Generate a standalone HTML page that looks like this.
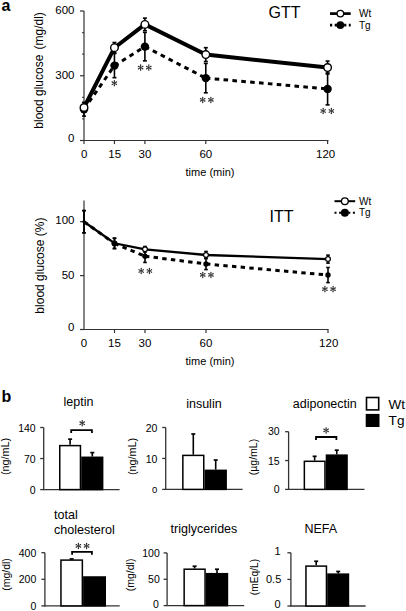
<!DOCTYPE html>
<html><head><meta charset="utf-8"><style>
html,body{margin:0;padding:0;background:#fff;}
svg{display:block;font-family:"Liberation Sans", sans-serif;}
</style></head><body>
<svg width="406" height="611" viewBox="0 0 406 611">
<rect width="406" height="611" fill="#fff"/>
<text x="1.5" y="10.8" font-size="16" text-anchor="start" font-weight="bold" fill="#000">a</text>
<line x1="84.00" y1="11.00" x2="84.00" y2="141.00" stroke="#333" stroke-width="1.2"/>
<line x1="83.50" y1="140.50" x2="328.50" y2="140.50" stroke="#333" stroke-width="1.2"/>
<line x1="80.00" y1="140.50" x2="84.00" y2="140.50" stroke="#333" stroke-width="1.2"/>
<text x="74.5" y="142.1" font-size="11.5" text-anchor="end" font-weight="normal" fill="#000">0</text>
<line x1="80.00" y1="75.75" x2="84.00" y2="75.75" stroke="#333" stroke-width="1.2"/>
<text x="74.5" y="78.75" font-size="11.5" text-anchor="end" font-weight="normal" fill="#000">300</text>
<line x1="80.00" y1="11.00" x2="84.00" y2="11.00" stroke="#333" stroke-width="1.2"/>
<text x="74.5" y="13.8" font-size="11.5" text-anchor="end" font-weight="normal" fill="#000">600</text>
<line x1="82.20" y1="118.92" x2="84.00" y2="118.92" stroke="#333" stroke-width="1.2"/>
<line x1="82.20" y1="97.33" x2="84.00" y2="97.33" stroke="#333" stroke-width="1.2"/>
<line x1="82.20" y1="54.17" x2="84.00" y2="54.17" stroke="#333" stroke-width="1.2"/>
<line x1="82.20" y1="32.58" x2="84.00" y2="32.58" stroke="#333" stroke-width="1.2"/>
<line x1="84.00" y1="140.50" x2="84.00" y2="144.00" stroke="#333" stroke-width="1.2"/>
<text x="84.2" y="157.8" font-size="11.5" text-anchor="middle" font-weight="normal" fill="#000">0</text>
<line x1="114.45" y1="140.50" x2="114.45" y2="144.00" stroke="#333" stroke-width="1.2"/>
<text x="114.64999999999999" y="157.8" font-size="11.5" text-anchor="middle" font-weight="normal" fill="#000">15</text>
<line x1="144.90" y1="140.50" x2="144.90" y2="144.00" stroke="#333" stroke-width="1.2"/>
<text x="144.89999999999998" y="157.8" font-size="11.5" text-anchor="middle" font-weight="normal" fill="#000">30</text>
<line x1="205.80" y1="140.50" x2="205.80" y2="144.00" stroke="#333" stroke-width="1.2"/>
<text x="205.79999999999998" y="157.8" font-size="11.5" text-anchor="middle" font-weight="normal" fill="#000">60</text>
<line x1="327.60" y1="140.50" x2="327.60" y2="144.00" stroke="#333" stroke-width="1.2"/>
<text x="325.59999999999997" y="157.8" font-size="11.5" text-anchor="middle" font-weight="normal" fill="#000">120</text>
<text x="210" y="176.2" font-size="11" text-anchor="middle" font-weight="normal" fill="#000">time (min)</text>
<text x="43.5" y="70.4" font-size="12" text-anchor="middle" fill="#000" transform="rotate(-90 43.5 70.4)">blood glucose <tspan dx="1.8">(mg/dl)</tspan></text>
<text x="268.5" y="17.8" font-size="16" text-anchor="start" font-weight="normal" fill="#000">GTT</text>
<line x1="84.00" y1="109.20" x2="114.45" y2="65.61" stroke="#000" stroke-width="3" stroke-dasharray="4.6 4.3" stroke-dashoffset="0"/>
<line x1="114.45" y1="65.61" x2="144.90" y2="46.61" stroke="#000" stroke-width="3" stroke-dasharray="4.6 4.3" stroke-dashoffset="0"/>
<line x1="144.90" y1="46.61" x2="205.80" y2="78.12" stroke="#000" stroke-width="3" stroke-dasharray="4.6 4.3" stroke-dashoffset="0"/>
<line x1="205.80" y1="78.12" x2="327.60" y2="88.92" stroke="#000" stroke-width="3" stroke-dasharray="4.6 4.3" stroke-dashoffset="0"/>
<line x1="84.00" y1="102.30" x2="84.00" y2="116.11" stroke="#000" stroke-width="1.6"/>
<line x1="82.00" y1="102.30" x2="86.00" y2="102.30" stroke="#000" stroke-width="1.6"/>
<line x1="82.00" y1="116.11" x2="86.00" y2="116.11" stroke="#000" stroke-width="1.6"/>
<line x1="114.45" y1="53.52" x2="114.45" y2="77.69" stroke="#000" stroke-width="1.6"/>
<line x1="112.45" y1="53.52" x2="116.45" y2="53.52" stroke="#000" stroke-width="1.6"/>
<line x1="112.45" y1="77.69" x2="116.45" y2="77.69" stroke="#000" stroke-width="1.6"/>
<line x1="144.90" y1="32.37" x2="144.90" y2="60.86" stroke="#000" stroke-width="1.6"/>
<line x1="142.90" y1="32.37" x2="146.90" y2="32.37" stroke="#000" stroke-width="1.6"/>
<line x1="142.90" y1="60.86" x2="146.90" y2="60.86" stroke="#000" stroke-width="1.6"/>
<line x1="205.80" y1="63.45" x2="205.80" y2="92.80" stroke="#000" stroke-width="1.6"/>
<line x1="203.80" y1="63.45" x2="207.80" y2="63.45" stroke="#000" stroke-width="1.6"/>
<line x1="203.80" y1="92.80" x2="207.80" y2="92.80" stroke="#000" stroke-width="1.6"/>
<line x1="327.60" y1="72.94" x2="327.60" y2="104.89" stroke="#000" stroke-width="1.6"/>
<line x1="325.60" y1="72.94" x2="329.60" y2="72.94" stroke="#000" stroke-width="1.6"/>
<line x1="325.60" y1="104.89" x2="329.60" y2="104.89" stroke="#000" stroke-width="1.6"/>
<circle cx="84.00" cy="109.20" r="4.2" fill="#000"/>
<circle cx="114.45" cy="65.61" r="4.2" fill="#000"/>
<circle cx="144.90" cy="46.61" r="4.2" fill="#000"/>
<circle cx="205.80" cy="78.12" r="4.2" fill="#000"/>
<circle cx="327.60" cy="88.92" r="4.2" fill="#000"/>
<polyline points="84.00,107.48 114.45,47.69 144.90,24.38 205.80,54.60 327.60,67.55" fill="none" stroke="#000" stroke-width="4"/>
<line x1="114.45" y1="42.51" x2="114.45" y2="52.87" stroke="#000" stroke-width="1.6"/>
<line x1="112.45" y1="42.51" x2="116.45" y2="42.51" stroke="#000" stroke-width="1.6"/>
<line x1="112.45" y1="52.87" x2="116.45" y2="52.87" stroke="#000" stroke-width="1.6"/>
<line x1="144.90" y1="18.12" x2="144.90" y2="30.64" stroke="#000" stroke-width="1.6"/>
<line x1="142.90" y1="18.12" x2="146.90" y2="18.12" stroke="#000" stroke-width="1.6"/>
<line x1="142.90" y1="30.64" x2="146.90" y2="30.64" stroke="#000" stroke-width="1.6"/>
<line x1="205.80" y1="47.69" x2="205.80" y2="61.51" stroke="#000" stroke-width="1.6"/>
<line x1="203.80" y1="47.69" x2="207.80" y2="47.69" stroke="#000" stroke-width="1.6"/>
<line x1="203.80" y1="61.51" x2="207.80" y2="61.51" stroke="#000" stroke-width="1.6"/>
<line x1="327.60" y1="61.07" x2="327.60" y2="74.02" stroke="#000" stroke-width="1.6"/>
<line x1="325.60" y1="61.07" x2="329.60" y2="61.07" stroke="#000" stroke-width="1.6"/>
<line x1="325.60" y1="74.02" x2="329.60" y2="74.02" stroke="#000" stroke-width="1.6"/>
<circle cx="84.00" cy="107.48" r="3.8" fill="#fff" stroke="#000" stroke-width="1.4"/>
<circle cx="114.45" cy="47.69" r="3.8" fill="#fff" stroke="#000" stroke-width="1.4"/>
<circle cx="144.90" cy="24.38" r="3.8" fill="#fff" stroke="#000" stroke-width="1.4"/>
<circle cx="205.80" cy="54.60" r="3.8" fill="#fff" stroke="#000" stroke-width="1.4"/>
<circle cx="327.60" cy="67.55" r="3.8" fill="#fff" stroke="#000" stroke-width="1.4"/>
<path d="M114.60,83.20L115.03,80.65L113.67,80.65L114.10,83.20ZM115.03,80.65A0.68,0.68 0 0 0 113.67,80.65ZM114.47,83.42L116.90,82.51L116.22,81.34L114.22,82.98ZM116.90,82.51A0.68,0.68 0 0 0 116.22,81.34ZM114.22,83.42L116.22,85.06L116.90,83.89L114.47,82.98ZM116.22,85.06A0.68,0.68 0 0 0 116.90,83.89ZM114.10,83.20L113.67,85.75L115.03,85.75L114.60,83.20ZM113.67,85.75A0.68,0.68 0 0 0 115.03,85.75ZM114.22,82.98L111.80,83.89L112.48,85.06L114.47,83.42ZM111.80,83.89A0.68,0.68 0 0 0 112.48,85.06ZM114.47,82.98L112.48,81.34L111.80,82.51L114.22,83.42ZM112.48,81.34A0.68,0.68 0 0 0 111.80,82.51Z" fill="#2a2a2a"/>
<path d="M140.85,67.60L141.28,65.05L139.92,65.05L140.35,67.60ZM141.28,65.05A0.68,0.68 0 0 0 139.92,65.05ZM140.72,67.82L143.15,66.91L142.47,65.74L140.47,67.38ZM143.15,66.91A0.68,0.68 0 0 0 142.47,65.74ZM140.47,67.82L142.47,69.46L143.15,68.29L140.72,67.38ZM142.47,69.46A0.68,0.68 0 0 0 143.15,68.29ZM140.35,67.60L139.92,70.15L141.28,70.15L140.85,67.60ZM139.92,70.15A0.68,0.68 0 0 0 141.28,70.15ZM140.47,67.38L138.05,68.29L138.73,69.46L140.72,67.82ZM138.05,68.29A0.68,0.68 0 0 0 138.73,69.46ZM140.72,67.38L138.73,65.74L138.05,66.91L140.47,67.82ZM138.73,65.74A0.68,0.68 0 0 0 138.05,66.91Z" fill="#2a2a2a"/>
<path d="M149.05,67.60L149.48,65.05L148.12,65.05L148.55,67.60ZM149.48,65.05A0.68,0.68 0 0 0 148.12,65.05ZM148.92,67.82L151.35,66.91L150.67,65.74L148.67,67.38ZM151.35,66.91A0.68,0.68 0 0 0 150.67,65.74ZM148.67,67.82L150.67,69.46L151.35,68.29L148.92,67.38ZM150.67,69.46A0.68,0.68 0 0 0 151.35,68.29ZM148.55,67.60L148.12,70.15L149.48,70.15L149.05,67.60ZM148.12,70.15A0.68,0.68 0 0 0 149.48,70.15ZM148.67,67.38L146.25,68.29L146.93,69.46L148.92,67.82ZM146.25,68.29A0.68,0.68 0 0 0 146.93,69.46ZM148.92,67.38L146.93,65.74L146.25,66.91L148.67,67.82ZM146.93,65.74A0.68,0.68 0 0 0 146.25,66.91Z" fill="#2a2a2a"/>
<path d="M202.95,99.90L203.38,97.35L202.02,97.35L202.45,99.90ZM203.38,97.35A0.68,0.68 0 0 0 202.02,97.35ZM202.82,100.12L205.25,99.21L204.57,98.04L202.57,99.68ZM205.25,99.21A0.68,0.68 0 0 0 204.57,98.04ZM202.57,100.12L204.57,101.76L205.25,100.59L202.82,99.68ZM204.57,101.76A0.68,0.68 0 0 0 205.25,100.59ZM202.45,99.90L202.02,102.45L203.38,102.45L202.95,99.90ZM202.02,102.45A0.68,0.68 0 0 0 203.38,102.45ZM202.57,99.68L200.15,100.59L200.83,101.76L202.82,100.12ZM200.15,100.59A0.68,0.68 0 0 0 200.83,101.76ZM202.82,99.68L200.83,98.04L200.15,99.21L202.57,100.12ZM200.83,98.04A0.68,0.68 0 0 0 200.15,99.21Z" fill="#2a2a2a"/>
<path d="M211.15,99.90L211.58,97.35L210.22,97.35L210.65,99.90ZM211.58,97.35A0.68,0.68 0 0 0 210.22,97.35ZM211.02,100.12L213.45,99.21L212.77,98.04L210.77,99.68ZM213.45,99.21A0.68,0.68 0 0 0 212.77,98.04ZM210.77,100.12L212.77,101.76L213.45,100.59L211.02,99.68ZM212.77,101.76A0.68,0.68 0 0 0 213.45,100.59ZM210.65,99.90L210.22,102.45L211.58,102.45L211.15,99.90ZM210.22,102.45A0.68,0.68 0 0 0 211.58,102.45ZM210.77,99.68L208.35,100.59L209.03,101.76L211.02,100.12ZM208.35,100.59A0.68,0.68 0 0 0 209.03,101.76ZM211.02,99.68L209.03,98.04L208.35,99.21L210.77,100.12ZM209.03,98.04A0.68,0.68 0 0 0 208.35,99.21Z" fill="#2a2a2a"/>
<path d="M323.40,111.00L323.83,108.45L322.47,108.45L322.90,111.00ZM323.83,108.45A0.68,0.68 0 0 0 322.47,108.45ZM323.27,111.22L325.70,110.31L325.02,109.14L323.02,110.78ZM325.70,110.31A0.68,0.68 0 0 0 325.02,109.14ZM323.02,111.22L325.02,112.86L325.70,111.69L323.27,110.78ZM325.02,112.86A0.68,0.68 0 0 0 325.70,111.69ZM322.90,111.00L322.47,113.55L323.83,113.55L323.40,111.00ZM322.47,113.55A0.68,0.68 0 0 0 323.83,113.55ZM323.02,110.78L320.60,111.69L321.28,112.86L323.27,111.22ZM320.60,111.69A0.68,0.68 0 0 0 321.28,112.86ZM323.27,110.78L321.28,109.14L320.60,110.31L323.02,111.22ZM321.28,109.14A0.68,0.68 0 0 0 320.60,110.31Z" fill="#2a2a2a"/>
<path d="M331.60,111.00L332.03,108.45L330.67,108.45L331.10,111.00ZM332.03,108.45A0.68,0.68 0 0 0 330.67,108.45ZM331.47,111.22L333.90,110.31L333.22,109.14L331.22,110.78ZM333.90,110.31A0.68,0.68 0 0 0 333.22,109.14ZM331.22,111.22L333.22,112.86L333.90,111.69L331.47,110.78ZM333.22,112.86A0.68,0.68 0 0 0 333.90,111.69ZM331.10,111.00L330.67,113.55L332.03,113.55L331.60,111.00ZM330.67,113.55A0.68,0.68 0 0 0 332.03,113.55ZM331.22,110.78L328.80,111.69L329.48,112.86L331.47,111.22ZM328.80,111.69A0.68,0.68 0 0 0 329.48,112.86ZM331.47,110.78L329.48,109.14L328.80,110.31L331.22,111.22ZM329.48,109.14A0.68,0.68 0 0 0 328.80,110.31Z" fill="#2a2a2a"/>
<line x1="330.00" y1="13.60" x2="350.70" y2="13.60" stroke="#000" stroke-width="2.7"/>
<circle cx="340.35" cy="13.6" r="3.3" fill="#fff" stroke="#000" stroke-width="1.3"/>
<line x1="330" y1="25.1" x2="350.7" y2="25.1" stroke="#000" stroke-width="2.7" stroke-dasharray="2.2 2.5"/>
<circle cx="340.35" cy="25.1" r="3.9" fill="#000"/>
<text x="359" y="17.1" font-size="10" text-anchor="start" font-weight="normal" fill="#000">Wt</text>
<text x="359" y="28.6" font-size="10" text-anchor="start" font-weight="normal" fill="#000">Tg</text>
<line x1="84.00" y1="200.50" x2="84.00" y2="330.00" stroke="#333" stroke-width="1.2"/>
<line x1="83.50" y1="329.50" x2="328.50" y2="329.50" stroke="#333" stroke-width="1.2"/>
<line x1="80.00" y1="329.50" x2="84.00" y2="329.50" stroke="#333" stroke-width="1.2"/>
<text x="74.5" y="331.3" font-size="11.5" text-anchor="end" font-weight="normal" fill="#000">0</text>
<line x1="80.00" y1="275.60" x2="84.00" y2="275.60" stroke="#333" stroke-width="1.2"/>
<text x="74.5" y="278.6" font-size="11.5" text-anchor="end" font-weight="normal" fill="#000">50</text>
<line x1="80.00" y1="221.70" x2="84.00" y2="221.70" stroke="#333" stroke-width="1.2"/>
<text x="74.5" y="224.39999999999998" font-size="11.5" text-anchor="end" font-weight="normal" fill="#000">100</text>
<text x="84.0" y="346.8" font-size="11.5" text-anchor="middle" font-weight="normal" fill="#000">0</text>
<line x1="114.50" y1="329.50" x2="114.50" y2="333.00" stroke="#333" stroke-width="1.2"/>
<text x="114.4" y="346.8" font-size="11.5" text-anchor="middle" font-weight="normal" fill="#000">15</text>
<line x1="145.00" y1="329.50" x2="145.00" y2="333.00" stroke="#333" stroke-width="1.2"/>
<text x="145.0" y="346.8" font-size="11.5" text-anchor="middle" font-weight="normal" fill="#000">30</text>
<line x1="206.00" y1="329.50" x2="206.00" y2="333.00" stroke="#333" stroke-width="1.2"/>
<text x="206.0" y="346.8" font-size="11.5" text-anchor="middle" font-weight="normal" fill="#000">60</text>
<line x1="328.00" y1="329.50" x2="328.00" y2="333.00" stroke="#333" stroke-width="1.2"/>
<text x="328.7" y="346.8" font-size="11.5" text-anchor="middle" font-weight="normal" fill="#000">120</text>
<text x="210" y="365.2" font-size="11" text-anchor="middle" font-weight="normal" fill="#000">time (min)</text>
<text x="44.5" y="265.6" font-size="12" text-anchor="middle" fill="#000" transform="rotate(-90 44.5 265.6)">blood glucose (%)</text>
<text x="269.5" y="221.6" font-size="16" text-anchor="start" font-weight="normal" fill="#000">ITT</text>
<polyline points="84.00,221.70 114.50,243.26 145.00,249.30 206.00,255.01 328.00,259.11" fill="none" stroke="#000" stroke-width="2.3"/>
<line x1="84.00" y1="221.70" x2="114.50" y2="243.48" stroke="#000" stroke-width="3" stroke-dasharray="4.4 4.3" stroke-dashoffset="0"/>
<line x1="114.50" y1="243.48" x2="145.00" y2="256.20" stroke="#000" stroke-width="3" stroke-dasharray="4.4 4.3" stroke-dashoffset="0"/>
<line x1="145.00" y1="256.20" x2="206.00" y2="263.96" stroke="#000" stroke-width="3" stroke-dasharray="4.4 4.3" stroke-dashoffset="0"/>
<line x1="206.00" y1="263.96" x2="328.00" y2="275.06" stroke="#000" stroke-width="3" stroke-dasharray="4.4 4.3" stroke-dashoffset="0"/>
<line x1="84.00" y1="210.60" x2="84.00" y2="232.80" stroke="#000" stroke-width="1.6"/>
<line x1="82.20" y1="210.60" x2="85.80" y2="210.60" stroke="#000" stroke-width="1.6"/>
<line x1="82.20" y1="232.80" x2="85.80" y2="232.80" stroke="#000" stroke-width="1.6"/>
<line x1="114.50" y1="238.30" x2="114.50" y2="248.65" stroke="#000" stroke-width="1.6"/>
<line x1="112.70" y1="238.30" x2="116.30" y2="238.30" stroke="#000" stroke-width="1.6"/>
<line x1="112.70" y1="248.65" x2="116.30" y2="248.65" stroke="#000" stroke-width="1.6"/>
<line x1="145.00" y1="249.94" x2="145.00" y2="262.45" stroke="#000" stroke-width="1.6"/>
<line x1="143.20" y1="249.94" x2="146.80" y2="249.94" stroke="#000" stroke-width="1.6"/>
<line x1="143.20" y1="262.45" x2="146.80" y2="262.45" stroke="#000" stroke-width="1.6"/>
<line x1="206.00" y1="258.35" x2="206.00" y2="269.56" stroke="#000" stroke-width="1.6"/>
<line x1="204.20" y1="258.35" x2="207.80" y2="258.35" stroke="#000" stroke-width="1.6"/>
<line x1="204.20" y1="269.56" x2="207.80" y2="269.56" stroke="#000" stroke-width="1.6"/>
<line x1="328.00" y1="267.51" x2="328.00" y2="282.61" stroke="#000" stroke-width="1.6"/>
<line x1="326.20" y1="267.51" x2="329.80" y2="267.51" stroke="#000" stroke-width="1.6"/>
<line x1="326.20" y1="282.61" x2="329.80" y2="282.61" stroke="#000" stroke-width="1.6"/>
<line x1="84.00" y1="210.60" x2="84.00" y2="232.80" stroke="#000" stroke-width="1.6"/>
<line x1="82.20" y1="210.60" x2="85.80" y2="210.60" stroke="#000" stroke-width="1.6"/>
<line x1="82.20" y1="232.80" x2="85.80" y2="232.80" stroke="#000" stroke-width="1.6"/>
<line x1="114.50" y1="238.09" x2="114.50" y2="248.43" stroke="#000" stroke-width="1.6"/>
<line x1="112.70" y1="238.09" x2="116.30" y2="238.09" stroke="#000" stroke-width="1.6"/>
<line x1="112.70" y1="248.43" x2="116.30" y2="248.43" stroke="#000" stroke-width="1.6"/>
<line x1="145.00" y1="246.49" x2="145.00" y2="252.10" stroke="#000" stroke-width="1.6"/>
<line x1="143.20" y1="246.49" x2="146.80" y2="246.49" stroke="#000" stroke-width="1.6"/>
<line x1="143.20" y1="252.10" x2="146.80" y2="252.10" stroke="#000" stroke-width="1.6"/>
<line x1="206.00" y1="251.45" x2="206.00" y2="258.57" stroke="#000" stroke-width="1.6"/>
<line x1="204.20" y1="251.45" x2="207.80" y2="251.45" stroke="#000" stroke-width="1.6"/>
<line x1="204.20" y1="258.57" x2="207.80" y2="258.57" stroke="#000" stroke-width="1.6"/>
<line x1="328.00" y1="255.12" x2="328.00" y2="263.10" stroke="#000" stroke-width="1.6"/>
<line x1="326.20" y1="255.12" x2="329.80" y2="255.12" stroke="#000" stroke-width="1.6"/>
<line x1="326.20" y1="263.10" x2="329.80" y2="263.10" stroke="#000" stroke-width="1.6"/>
<circle cx="145.00" cy="249.30" r="2.4" fill="#fff" stroke="#000" stroke-width="1.2"/>
<circle cx="206.00" cy="255.01" r="2.4" fill="#fff" stroke="#000" stroke-width="1.2"/>
<circle cx="328.00" cy="259.11" r="2.4" fill="#fff" stroke="#000" stroke-width="1.2"/>
<circle cx="84.00" cy="221.70" r="1.6" fill="#000"/>
<circle cx="114.50" cy="243.48" r="3" fill="#000"/>
<circle cx="145.00" cy="256.20" r="2.7" fill="#000"/>
<circle cx="206.00" cy="263.96" r="2.7" fill="#000"/>
<circle cx="328.00" cy="275.06" r="2.7" fill="#000"/>
<path d="M141.45,271.00L141.88,268.45L140.52,268.45L140.95,271.00ZM141.88,268.45A0.68,0.68 0 0 0 140.52,268.45ZM141.33,271.22L143.75,270.31L143.07,269.14L141.08,270.78ZM143.75,270.31A0.68,0.68 0 0 0 143.07,269.14ZM141.08,271.22L143.07,272.86L143.75,271.69L141.33,270.78ZM143.07,272.86A0.68,0.68 0 0 0 143.75,271.69ZM140.95,271.00L140.52,273.55L141.88,273.55L141.45,271.00ZM140.52,273.55A0.68,0.68 0 0 0 141.88,273.55ZM141.08,270.78L138.65,271.69L139.33,272.86L141.33,271.22ZM138.65,271.69A0.68,0.68 0 0 0 139.33,272.86ZM141.33,270.78L139.33,269.14L138.65,270.31L141.08,271.22ZM139.33,269.14A0.68,0.68 0 0 0 138.65,270.31Z" fill="#2a2a2a"/>
<path d="M149.65,271.00L150.08,268.45L148.72,268.45L149.15,271.00ZM150.08,268.45A0.68,0.68 0 0 0 148.72,268.45ZM149.53,271.22L151.95,270.31L151.27,269.14L149.28,270.78ZM151.95,270.31A0.68,0.68 0 0 0 151.27,269.14ZM149.28,271.22L151.27,272.86L151.95,271.69L149.53,270.78ZM151.27,272.86A0.68,0.68 0 0 0 151.95,271.69ZM149.15,271.00L148.72,273.55L150.08,273.55L149.65,271.00ZM148.72,273.55A0.68,0.68 0 0 0 150.08,273.55ZM149.28,270.78L146.85,271.69L147.53,272.86L149.53,271.22ZM146.85,271.69A0.68,0.68 0 0 0 147.53,272.86ZM149.53,270.78L147.53,269.14L146.85,270.31L149.28,271.22ZM147.53,269.14A0.68,0.68 0 0 0 146.85,270.31Z" fill="#2a2a2a"/>
<path d="M203.00,274.90L203.43,272.35L202.07,272.35L202.50,274.90ZM203.43,272.35A0.68,0.68 0 0 0 202.07,272.35ZM202.88,275.12L205.30,274.21L204.62,273.04L202.62,274.68ZM205.30,274.21A0.68,0.68 0 0 0 204.62,273.04ZM202.62,275.12L204.62,276.76L205.30,275.59L202.88,274.68ZM204.62,276.76A0.68,0.68 0 0 0 205.30,275.59ZM202.50,274.90L202.07,277.45L203.43,277.45L203.00,274.90ZM202.07,277.45A0.68,0.68 0 0 0 203.43,277.45ZM202.62,274.68L200.20,275.59L200.88,276.76L202.88,275.12ZM200.20,275.59A0.68,0.68 0 0 0 200.88,276.76ZM202.88,274.68L200.88,273.04L200.20,274.21L202.62,275.12ZM200.88,273.04A0.68,0.68 0 0 0 200.20,274.21Z" fill="#2a2a2a"/>
<path d="M211.20,274.90L211.63,272.35L210.27,272.35L210.70,274.90ZM211.63,272.35A0.68,0.68 0 0 0 210.27,272.35ZM211.07,275.12L213.50,274.21L212.82,273.04L210.82,274.68ZM213.50,274.21A0.68,0.68 0 0 0 212.82,273.04ZM210.82,275.12L212.82,276.76L213.50,275.59L211.07,274.68ZM212.82,276.76A0.68,0.68 0 0 0 213.50,275.59ZM210.70,274.90L210.27,277.45L211.63,277.45L211.20,274.90ZM210.27,277.45A0.68,0.68 0 0 0 211.63,277.45ZM210.82,274.68L208.40,275.59L209.08,276.76L211.07,275.12ZM208.40,275.59A0.68,0.68 0 0 0 209.08,276.76ZM211.07,274.68L209.08,273.04L208.40,274.21L210.82,275.12ZM209.08,273.04A0.68,0.68 0 0 0 208.40,274.21Z" fill="#2a2a2a"/>
<path d="M325.15,289.10L325.58,286.55L324.22,286.55L324.65,289.10ZM325.58,286.55A0.68,0.68 0 0 0 324.22,286.55ZM325.02,289.32L327.45,288.41L326.77,287.24L324.77,288.88ZM327.45,288.41A0.68,0.68 0 0 0 326.77,287.24ZM324.77,289.32L326.77,290.96L327.45,289.79L325.02,288.88ZM326.77,290.96A0.68,0.68 0 0 0 327.45,289.79ZM324.65,289.10L324.22,291.65L325.58,291.65L325.15,289.10ZM324.22,291.65A0.68,0.68 0 0 0 325.58,291.65ZM324.77,288.88L322.35,289.79L323.03,290.96L325.02,289.32ZM322.35,289.79A0.68,0.68 0 0 0 323.03,290.96ZM325.02,288.88L323.03,287.24L322.35,288.41L324.77,289.32ZM323.03,287.24A0.68,0.68 0 0 0 322.35,288.41Z" fill="#2a2a2a"/>
<path d="M333.35,289.10L333.78,286.55L332.42,286.55L332.85,289.10ZM333.78,286.55A0.68,0.68 0 0 0 332.42,286.55ZM333.23,289.32L335.65,288.41L334.97,287.24L332.98,288.88ZM335.65,288.41A0.68,0.68 0 0 0 334.97,287.24ZM332.98,289.32L334.97,290.96L335.65,289.79L333.23,288.88ZM334.97,290.96A0.68,0.68 0 0 0 335.65,289.79ZM332.85,289.10L332.42,291.65L333.78,291.65L333.35,289.10ZM332.42,291.65A0.68,0.68 0 0 0 333.78,291.65ZM332.98,288.88L330.55,289.79L331.23,290.96L333.23,289.32ZM330.55,289.79A0.68,0.68 0 0 0 331.23,290.96ZM333.23,288.88L331.23,287.24L330.55,288.41L332.98,289.32ZM331.23,287.24A0.68,0.68 0 0 0 330.55,288.41Z" fill="#2a2a2a"/>
<line x1="334.50" y1="201.20" x2="355.20" y2="201.20" stroke="#000" stroke-width="2"/>
<circle cx="344.85" cy="201.2" r="3.4" fill="#fff" stroke="#000" stroke-width="1.3"/>
<line x1="334.5" y1="212.7" x2="355.2" y2="212.7" stroke="#000" stroke-width="2" stroke-dasharray="2 2.6"/>
<circle cx="344.85" cy="212.7" r="4.0" fill="#000"/>
<text x="359" y="204.7" font-size="10" text-anchor="start" font-weight="normal" fill="#000">Wt</text>
<text x="359" y="216.2" font-size="10" text-anchor="start" font-weight="normal" fill="#000">Tg</text>
<text x="1.5" y="401.6" font-size="16" text-anchor="start" font-weight="bold" fill="#000">b</text>
<line x1="43.70" y1="427.50" x2="43.70" y2="490.10" stroke="#333" stroke-width="1.3"/>
<line x1="43.20" y1="489.60" x2="119.60" y2="489.60" stroke="#333" stroke-width="1.3"/>
<line x1="40.20" y1="489.60" x2="43.70" y2="489.60" stroke="#333" stroke-width="1.3"/>
<text x="35.7" y="493.70000000000005" font-size="10.5" text-anchor="end" font-weight="normal" fill="#000">0</text>
<line x1="40.20" y1="458.55" x2="43.70" y2="458.55" stroke="#333" stroke-width="1.3"/>
<text x="35.7" y="463.35" font-size="10.5" text-anchor="end" font-weight="normal" fill="#000">70</text>
<line x1="40.20" y1="427.50" x2="43.70" y2="427.50" stroke="#333" stroke-width="1.3"/>
<text x="35.7" y="431.8" font-size="10.5" text-anchor="end" font-weight="normal" fill="#000">140</text>
<line x1="70.10" y1="439.17" x2="70.10" y2="444.87" stroke="#000" stroke-width="1.6"/>
<line x1="68.10" y1="439.17" x2="72.10" y2="439.17" stroke="#000" stroke-width="1.7"/>
<rect x="59.75" y="445.62" width="20.70" height="43.98" fill="#fff" stroke="#000" stroke-width="1.5"/>
<line x1="92.30" y1="452.61" x2="92.30" y2="456.55" stroke="#000" stroke-width="1.6"/>
<line x1="90.30" y1="452.61" x2="94.30" y2="452.61" stroke="#000" stroke-width="1.7"/>
<rect x="81.95" y="457.30" width="20.70" height="32.30" fill="#000" stroke="#000" stroke-width="1.5"/>
<text x="9.3" y="456.5" font-size="10.8" text-anchor="middle" font-weight="normal" fill="#000" transform="rotate(-90 9.3 456.5)">(ng/mL)</text>
<text x="63.5" y="406" font-size="12.5" text-anchor="start" font-weight="normal" fill="#000">leptin</text>
<path d="M71.20,433.00V430.10H91.90V433.00" fill="none" stroke="#000" stroke-width="1.8"/>
<path d="M82.45,423.20L82.88,420.65L81.52,420.65L81.95,423.20ZM82.88,420.65A0.68,0.68 0 0 0 81.52,420.65ZM82.33,423.42L84.75,422.51L84.07,421.34L82.08,422.98ZM84.75,422.51A0.68,0.68 0 0 0 84.07,421.34ZM82.08,423.42L84.07,425.06L84.75,423.89L82.33,422.98ZM84.07,425.06A0.68,0.68 0 0 0 84.75,423.89ZM81.95,423.20L81.52,425.75L82.88,425.75L82.45,423.20ZM81.52,425.75A0.68,0.68 0 0 0 82.88,425.75ZM82.08,422.98L79.65,423.89L80.33,425.06L82.33,423.42ZM79.65,423.89A0.68,0.68 0 0 0 80.33,425.06ZM82.33,422.98L80.33,421.34L79.65,422.51L82.08,423.42ZM80.33,421.34A0.68,0.68 0 0 0 79.65,422.51Z" fill="#2a2a2a"/>
<line x1="165.70" y1="427.50" x2="165.70" y2="489.90" stroke="#333" stroke-width="1.3"/>
<line x1="165.20" y1="489.40" x2="242.60" y2="489.40" stroke="#333" stroke-width="1.3"/>
<line x1="162.20" y1="489.40" x2="165.70" y2="489.40" stroke="#333" stroke-width="1.3"/>
<text x="157.39999999999998" y="492.8" font-size="9.5" text-anchor="end" font-weight="normal" fill="#000">0</text>
<line x1="162.20" y1="458.45" x2="165.70" y2="458.45" stroke="#333" stroke-width="1.3"/>
<text x="157.39999999999998" y="462.85" font-size="10.5" text-anchor="end" font-weight="normal" fill="#000">10</text>
<line x1="162.20" y1="427.50" x2="165.70" y2="427.50" stroke="#333" stroke-width="1.3"/>
<text x="157.39999999999998" y="431.6" font-size="10.5" text-anchor="end" font-weight="normal" fill="#000">20</text>
<line x1="193.30" y1="434.00" x2="193.30" y2="454.64" stroke="#000" stroke-width="1.6"/>
<line x1="191.30" y1="434.00" x2="195.30" y2="434.00" stroke="#000" stroke-width="1.7"/>
<rect x="182.85" y="455.39" width="20.90" height="34.01" fill="#fff" stroke="#000" stroke-width="1.5"/>
<line x1="215.70" y1="460.00" x2="215.70" y2="469.59" stroke="#000" stroke-width="1.6"/>
<line x1="213.70" y1="460.00" x2="217.70" y2="460.00" stroke="#000" stroke-width="1.7"/>
<rect x="205.25" y="470.34" width="20.90" height="19.06" fill="#000" stroke="#000" stroke-width="1.5"/>
<text x="136.3" y="456.5" font-size="10.8" text-anchor="middle" font-weight="normal" fill="#000" transform="rotate(-90 136.3 456.5)">(ng/mL)</text>
<text x="186.2" y="407.7" font-size="12.5" text-anchor="start" font-weight="normal" fill="#000">insulin</text>
<line x1="288.60" y1="431.70" x2="288.60" y2="489.90" stroke="#333" stroke-width="1.3"/>
<line x1="288.10" y1="489.40" x2="364.50" y2="489.40" stroke="#333" stroke-width="1.3"/>
<line x1="285.10" y1="489.40" x2="288.60" y2="489.40" stroke="#333" stroke-width="1.3"/>
<text x="279.6" y="493.2" font-size="10.5" text-anchor="end" font-weight="normal" fill="#000">0</text>
<line x1="285.10" y1="460.55" x2="288.60" y2="460.55" stroke="#333" stroke-width="1.3"/>
<text x="279.6" y="464.74999999999994" font-size="10.5" text-anchor="end" font-weight="normal" fill="#000">15</text>
<line x1="285.10" y1="431.70" x2="288.60" y2="431.70" stroke="#333" stroke-width="1.3"/>
<text x="279.6" y="435.0" font-size="10.5" text-anchor="end" font-weight="normal" fill="#000">30</text>
<line x1="314.65" y1="456.32" x2="314.65" y2="460.55" stroke="#000" stroke-width="1.6"/>
<line x1="312.65" y1="456.32" x2="316.65" y2="456.32" stroke="#000" stroke-width="1.7"/>
<rect x="304.35" y="461.30" width="20.60" height="28.10" fill="#fff" stroke="#000" stroke-width="1.5"/>
<line x1="336.75" y1="450.16" x2="336.75" y2="454.40" stroke="#000" stroke-width="1.6"/>
<line x1="334.75" y1="450.16" x2="338.75" y2="450.16" stroke="#000" stroke-width="1.7"/>
<rect x="326.45" y="455.15" width="20.60" height="34.25" fill="#000" stroke="#000" stroke-width="1.5"/>
<text x="256.6" y="457" font-size="10.5" text-anchor="middle" font-weight="normal" fill="#000" transform="rotate(-90 256.6 457)">(µg/mL)</text>
<text x="292.8" y="408.1" font-size="12.5" text-anchor="start" font-weight="normal" fill="#000">adiponectin</text>
<path d="M316.00,439.90V437.00H336.40V439.90" fill="none" stroke="#000" stroke-width="1.8"/>
<path d="M326.35,430.40L326.78,427.85L325.42,427.85L325.85,430.40ZM326.78,427.85A0.68,0.68 0 0 0 325.42,427.85ZM326.23,430.62L328.65,429.71L327.97,428.54L325.98,430.18ZM328.65,429.71A0.68,0.68 0 0 0 327.97,428.54ZM325.98,430.62L327.97,432.26L328.65,431.09L326.23,430.18ZM327.97,432.26A0.68,0.68 0 0 0 328.65,431.09ZM325.85,430.40L325.42,432.95L326.78,432.95L326.35,430.40ZM325.42,432.95A0.68,0.68 0 0 0 326.78,432.95ZM325.98,430.18L323.55,431.09L324.23,432.26L326.23,430.62ZM323.55,431.09A0.68,0.68 0 0 0 324.23,432.26ZM326.23,430.18L324.23,428.54L323.55,429.71L325.98,430.62ZM324.23,428.54A0.68,0.68 0 0 0 323.55,429.71Z" fill="#2a2a2a"/>
<line x1="44.90" y1="552.70" x2="44.90" y2="606.40" stroke="#333" stroke-width="1.3"/>
<line x1="44.40" y1="605.90" x2="119.70" y2="605.90" stroke="#333" stroke-width="1.3"/>
<line x1="41.40" y1="605.90" x2="44.90" y2="605.90" stroke="#333" stroke-width="1.3"/>
<text x="36.3" y="609.6999999999999" font-size="10.5" text-anchor="end" font-weight="normal" fill="#000">0</text>
<line x1="41.40" y1="579.30" x2="44.90" y2="579.30" stroke="#333" stroke-width="1.3"/>
<text x="36.3" y="583.3999999999999" font-size="10.5" text-anchor="end" font-weight="normal" fill="#000">200</text>
<line x1="41.40" y1="552.70" x2="44.90" y2="552.70" stroke="#333" stroke-width="1.3"/>
<text x="36.3" y="556.8" font-size="10.5" text-anchor="end" font-weight="normal" fill="#000">400</text>
<line x1="71.65" y1="558.95" x2="71.65" y2="559.35" stroke="#000" stroke-width="1.6"/>
<line x1="69.65" y1="558.95" x2="73.65" y2="558.95" stroke="#000" stroke-width="1.7"/>
<rect x="60.95" y="560.10" width="21.40" height="45.80" fill="#fff" stroke="#000" stroke-width="1.5"/>
<rect x="83.85" y="576.99" width="21.40" height="28.91" fill="#000" stroke="#000" stroke-width="1.5"/>
<text x="9.5" y="574.5" font-size="10.5" text-anchor="middle" font-weight="normal" fill="#000" transform="rotate(-90 9.5 574.5)">(mg/dl)</text>
<text x="53.9" y="518.9" font-size="12.6" text-anchor="start" font-weight="normal" fill="#000">total</text>
<text x="53.9" y="534.1" font-size="12.6" text-anchor="start" font-weight="normal" fill="#000">cholesterol</text>
<path d="M72.10,554.70V551.80H91.90V554.70" fill="none" stroke="#000" stroke-width="1.8"/>
<path d="M78.65,545.90L79.08,543.35L77.72,543.35L78.15,545.90ZM79.08,543.35A0.68,0.68 0 0 0 77.72,543.35ZM78.53,546.12L80.95,545.21L80.27,544.04L78.28,545.68ZM80.95,545.21A0.68,0.68 0 0 0 80.27,544.04ZM78.28,546.12L80.27,547.76L80.95,546.59L78.53,545.68ZM80.27,547.76A0.68,0.68 0 0 0 80.95,546.59ZM78.15,545.90L77.72,548.45L79.08,548.45L78.65,545.90ZM77.72,548.45A0.68,0.68 0 0 0 79.08,548.45ZM78.28,545.68L75.85,546.59L76.53,547.76L78.53,546.12ZM75.85,546.59A0.68,0.68 0 0 0 76.53,547.76ZM78.53,545.68L76.53,544.04L75.85,545.21L78.28,546.12ZM76.53,544.04A0.68,0.68 0 0 0 75.85,545.21Z" fill="#2a2a2a"/>
<path d="M86.85,545.90L87.28,543.35L85.92,543.35L86.35,545.90ZM87.28,543.35A0.68,0.68 0 0 0 85.92,543.35ZM86.72,546.12L89.15,545.21L88.47,544.04L86.47,545.68ZM89.15,545.21A0.68,0.68 0 0 0 88.47,544.04ZM86.47,546.12L88.47,547.76L89.15,546.59L86.72,545.68ZM88.47,547.76A0.68,0.68 0 0 0 89.15,546.59ZM86.35,545.90L85.92,548.45L87.28,548.45L86.85,545.90ZM85.92,548.45A0.68,0.68 0 0 0 87.28,548.45ZM86.47,545.68L84.05,546.59L84.73,547.76L86.72,546.12ZM84.05,546.59A0.68,0.68 0 0 0 84.73,547.76ZM86.72,545.68L84.73,544.04L84.05,545.21L86.47,546.12ZM84.73,544.04A0.68,0.68 0 0 0 84.05,545.21Z" fill="#2a2a2a"/>
<line x1="167.10" y1="552.90" x2="167.10" y2="606.10" stroke="#333" stroke-width="1.3"/>
<line x1="166.60" y1="605.60" x2="244.20" y2="605.60" stroke="#333" stroke-width="1.3"/>
<line x1="163.60" y1="605.60" x2="167.10" y2="605.60" stroke="#333" stroke-width="1.3"/>
<text x="158.89999999999998" y="608.25" font-size="10.5" text-anchor="end" font-weight="normal" fill="#000">0</text>
<line x1="163.60" y1="579.25" x2="167.10" y2="579.25" stroke="#333" stroke-width="1.3"/>
<text x="159.79999999999998" y="582.8499999999999" font-size="10.5" text-anchor="end" font-weight="normal" fill="#000">50</text>
<line x1="163.60" y1="552.90" x2="167.10" y2="552.90" stroke="#333" stroke-width="1.3"/>
<text x="159.79999999999998" y="556.6999999999999" font-size="10.5" text-anchor="end" font-weight="normal" fill="#000">100</text>
<line x1="194.60" y1="566.23" x2="194.60" y2="568.45" stroke="#000" stroke-width="1.6"/>
<line x1="192.60" y1="566.23" x2="196.60" y2="566.23" stroke="#000" stroke-width="1.7"/>
<rect x="184.15" y="569.20" width="20.90" height="36.40" fill="#fff" stroke="#000" stroke-width="1.5"/>
<line x1="217.00" y1="569.24" x2="217.00" y2="572.93" stroke="#000" stroke-width="1.6"/>
<line x1="215.00" y1="569.24" x2="219.00" y2="569.24" stroke="#000" stroke-width="1.7"/>
<rect x="206.55" y="573.68" width="20.90" height="31.92" fill="#000" stroke="#000" stroke-width="1.5"/>
<text x="134" y="574.9" font-size="10.5" text-anchor="middle" font-weight="normal" fill="#000" transform="rotate(-90 134 574.9)">(mg/dl)</text>
<text x="170.6" y="532.7" font-size="12.5" text-anchor="start" font-weight="normal" fill="#000">triglycerides</text>
<line x1="290.90" y1="552.80" x2="290.90" y2="606.50" stroke="#333" stroke-width="1.3"/>
<line x1="290.40" y1="606.00" x2="365.60" y2="606.00" stroke="#333" stroke-width="1.3"/>
<line x1="287.40" y1="606.00" x2="290.90" y2="606.00" stroke="#333" stroke-width="1.3"/>
<text x="280.49999999999994" y="607.5" font-size="11" text-anchor="end" font-weight="normal" fill="#000">0</text>
<line x1="287.40" y1="579.40" x2="290.90" y2="579.40" stroke="#333" stroke-width="1.3"/>
<text x="281.29999999999995" y="582.8" font-size="11" text-anchor="end" font-weight="normal" fill="#000">0.5</text>
<line x1="287.40" y1="552.80" x2="290.90" y2="552.80" stroke="#333" stroke-width="1.3"/>
<text x="280.49999999999994" y="554.9999999999999" font-size="11" text-anchor="end" font-weight="normal" fill="#000">1</text>
<line x1="316.20" y1="561.26" x2="316.20" y2="565.36" stroke="#000" stroke-width="1.6"/>
<line x1="314.20" y1="561.26" x2="318.20" y2="561.26" stroke="#000" stroke-width="1.7"/>
<rect x="305.95" y="566.11" width="20.50" height="39.89" fill="#fff" stroke="#000" stroke-width="1.5"/>
<line x1="338.20" y1="571.47" x2="338.20" y2="573.39" stroke="#000" stroke-width="1.6"/>
<line x1="336.20" y1="571.47" x2="340.20" y2="571.47" stroke="#000" stroke-width="1.7"/>
<rect x="327.95" y="574.14" width="20.50" height="31.86" fill="#000" stroke="#000" stroke-width="1.5"/>
<text x="257.8" y="577" font-size="10.2" text-anchor="middle" font-weight="normal" fill="#000" transform="rotate(-90 257.8 577)">(mEq/L)</text>
<text x="304.4" y="532.7" font-size="12.5" text-anchor="start" font-weight="normal" fill="#000">NEFA</text>
<rect x="366.5" y="397.5" width="12.2" height="12.4" fill="#fff" stroke="#000" stroke-width="1.6"/>
<rect x="365.7" y="413.9" width="13.8" height="13.1" fill="#000"/>
<text x="388.6" y="408.9" font-size="13.5" text-anchor="start" font-weight="normal" fill="#000">Wt</text>
<text x="388.6" y="424.7" font-size="13.6" text-anchor="start" font-weight="normal" fill="#000">Tg</text>
</svg>
</body></html>
